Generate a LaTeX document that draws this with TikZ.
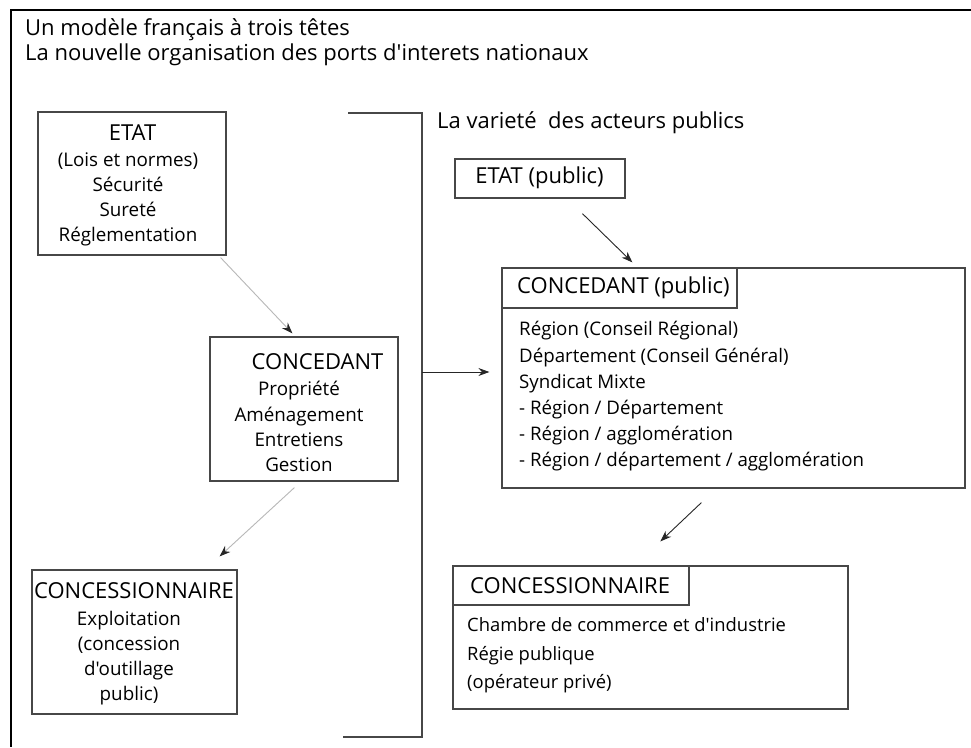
\documentclass[tikz,border=0pt]{standalone}
\usepackage{fontspec}
\setmainfont{Open Sans}[Ligatures=TeXOff]
\usetikzlibrary{arrows.meta,calc}
\begin{document}
\begin{tikzpicture}[x=1pt,y=-1pt,
  box/.style={draw=black!72, line width=1.2pt, inner sep=0pt, rectangle},
  head/.style={font=\fontsize{22}{25}\selectfont, inner sep=0pt, align=center},
  txt/.style={font=\fontsize{18.8}{25.2}\selectfont, inner sep=0pt, align=center},
  headl/.style={font=\fontsize{22}{25}\selectfont, inner sep=0pt, align=left, anchor=west},
  txtl/.style={font=\fontsize{18.7}{26.2}\selectfont, inner sep=0pt, align=left, anchor=west},
  grayarrow/.style={draw=black!28, line width=0.9pt, -{Stealth[length=11pt,width=8pt,color=black!85]}},
  blackarrow/.style={draw=black!85, line width=0.9pt, -{Stealth[length=11pt,width=8pt]}}
]
\useasboundingbox (0,0) rectangle (971,747);
\fill[white] (0,0) rectangle (971,747);
% outer frame (top and left only)
\draw[line width=1.6pt, black] (971,10) -- (11,10) -- (11,747);
% titles
\node[headl] (title) at (25,42.5) {Un modèle français à trois têtes\\La nouvelle organisation des ports d'interets nationaux};
\node[headl] (variete) at (437,123) {La varieté\ \ des acteurs publics};
% left column
\node[box, minimum width=188pt, minimum height=143pt] (etat) at (132,183.5) {};
\node[head] (etathead) at (132.5,133) {ETAT};
\node[txt] (etattxt) at (128,199.5) {(Lois et normes)\\Sécurité\\Sureté\\Réglementation};
\node[box, minimum width=188pt, minimum height=144pt] (lconc) at (304,409) {};
\node[head] (lconchead) at (317.5,362) {CONCEDANT};
\node[txt] (lconctxt) at (299,426.5) {Propriété\\Aménagement\\Entretiens\\Gestion};
\node[box, minimum width=205pt, minimum height=144pt] (lconcess) at (134.5,642) {};
\node[head] (lconcesshead) at (134,591) {CONCESSIONNAIRE};
\node[txt] (lconcesstxt) at (129,658) {Exploitation\\(concession\\d'outillage\\public)};
% bracket
\draw[line width=1.2pt, black!72] (348,113) -- (422,113) -- (422,737) -- (343,737);
\coordinate (br) at (422,372);
% right column
\node[box, minimum width=170pt, minimum height=39pt] (etatp) at (540,178.5) {};
\node[head] (etatptxt) at (539.5,178) {ETAT (public)};
\node[box, minimum width=463pt, minimum height=220pt] (bigc) at (733.5,378) {};
\node[box, minimum width=235pt, minimum height=40pt] (bigctab) at (619.5,288) {};
\node[headl] (bigchead) at (517,288) {CONCEDANT (public)};
\node[txtl] (bigctxt) at (519,396.5) {Région (Conseil Régional)\\Département (Conseil Général)\\Syndicat Mixte\\- Région / Département\\- Région / agglomération\\- Région / département / agglomération};
\node[box, minimum width=395pt, minimum height=143pt] (rconcess) at (650.5,637.5) {};
\node[box, minimum width=236pt, minimum height=39pt] (rconcesstab) at (571,585.5) {};
\node[headl] (rconcesshead) at (470,586) {CONCESSIONNAIRE};
\node[txtl, font=\fontsize{18.4}{28.5}\selectfont] (rconcesstxt) at (467,655.5) {Chambre de commerce et d'industrie\\Régie publique\\(opérateur privé)};
% arrows
\draw[grayarrow] ($(etat.south east)+(-6,2)$) -- ($(lconc.north west)+(83,-3)$);
\draw[grayarrow] ($(lconc.south west)+(85,6)$) -- ($(lconcess.north east)+(-18,-13)$);
\draw[blackarrow] ($(etatp.south west)+(128,15)$) -- ($(bigc.north west)+(131,-5)$);
\draw[blackarrow] ($(bigc.south west)+(200,14)$) -- ($(rconcess.north west)+(208,-24)$);
\draw[blackarrow] (br) -- ($(br -| bigc.west)+(-12,0)$);
\end{tikzpicture}
\end{document}
